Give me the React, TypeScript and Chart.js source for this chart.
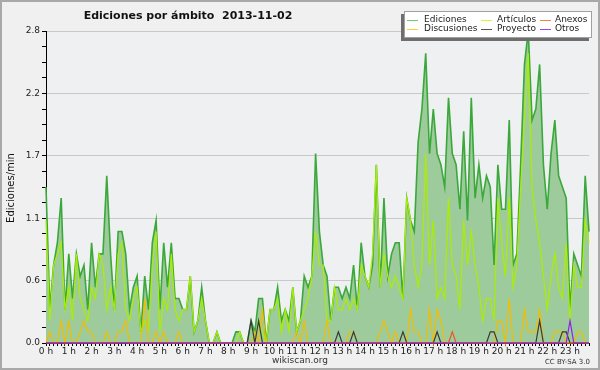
import React, { useEffect, useRef } from 'react';
import { Chart, registerables } from 'chart.js';

Chart.register(...registerables);

const chartTitle = 'Ediciones por ámbito  2013-11-02';
const yAxisTitle = 'Ediciones/min';

const hourLabels = [
  '0 h', '1 h', '2 h', '3 h', '4 h', '5 h', '6 h', '7 h', '8 h', '9 h', '10 h', '11 h',
  '12 h', '13 h', '14 h', '15 h', '16 h', '17 h', '18 h', '19 h', '20 h', '21 h', '22 h', '23 h',
];

// one value every 10 minutes (144 per day), in edits per minute
const ediciones = [
  1.4, 0.3, 0.7, 0.9, 1.3, 0.3, 0.8, 0.4, 0.8, 0.6, 0.7, 0.3,
  0.9, 0.5, 0.8, 0.8, 1.5, 0.8, 0.3, 1.0, 1.0, 0.8, 0.3, 0.5,
  0.6, 0.1, 0.6, 0.3, 0.9, 1.1, 0.3, 0.9, 0.5, 0.9, 0.4, 0.4,
  0.3, 0.3, 0.6, 0.1, 0.2, 0.5, 0.2, 0, 0, 0.1, 0, 0,
  0, 0, 0.1, 0.1, 0, 0, 0.2, 0.1, 0.4, 0.4, 0, 0.3,
  0.3, 0.5, 0.2, 0.3, 0.2, 0.5, 0.1, 0.2, 0.6, 0.5, 0.6, 1.7,
  1.0, 0.7, 0.6, 0.2, 0.5, 0.5, 0.4, 0.5, 0.4, 0.7, 0.3, 0.9,
  0.6, 0.5, 0.7, 1.6, 0.5, 1.3, 0.6, 0.8, 0.9, 0.9, 0.4, 1.3,
  1.1, 1.0, 1.8, 2.1, 2.6, 1.7, 2.1, 1.7, 1.6, 1.4, 2.2, 1.7,
  1.6, 1.2, 1.9, 1.1, 2.2, 1.3, 1.6, 1.3, 1.5, 1.4, 0.7, 1.6,
  1.2, 1.2, 2.0, 0.7, 0.8, 1.6, 2.5, 2.8, 2.0, 2.1, 2.5, 1.6,
  1.2, 1.7, 2.0, 1.5, 1.4, 1.3, 0.3, 0.8, 0.7, 0.6, 1.5, 1.0,
];

const articulos = [
  1.1, 0.2, 0.7, 0.8, 0.9, 0.3, 0.5, 0.2, 0.8, 0.4, 0.3, 0.2,
  0.5, 0.4, 0.8, 0.7, 0.3, 0.5, 0.3, 0.8, 0.9, 0.3, 0.2, 0.4,
  0.5, 0.1, 0.2, 0.1, 0.7, 1.0, 0.1, 0.4, 0.3, 0.8, 0.3, 0.2,
  0.3, 0.3, 0.6, 0.1, 0.2, 0.4, 0.2, 0, 0, 0.1, 0, 0,
  0, 0, 0, 0.1, 0, 0, 0, 0, 0.2, 0.1, 0, 0.3,
  0.3, 0.4, 0.1, 0.3, 0.1, 0.5, 0.1, 0.2, 0.3, 0.4, 0.6, 1.0,
  0.7, 0.7, 0.2, 0.2, 0.5, 0.3, 0.3, 0.4, 0.3, 0.4, 0.3, 0.7,
  0.6, 0.5, 0.8, 1.6, 0.5, 0.8, 0.6, 0.5, 0.6, 0.5, 0.4, 1.3,
  1.1, 0.7, 0.5, 0.7, 1.7, 0.7, 1.1, 0.4, 0.5, 0.4, 1.3, 0.7,
  0.6, 0.3, 1.1, 0.7, 1.0, 0.7, 0.5, 0.2, 0.4, 0.4, 0.2, 1.3,
  0.9, 0.6, 1.3, 0.5, 0.7, 1.4, 2.0, 2.6, 1.4, 1.1, 0.9, 0.6,
  0.3, 0.6, 0.8, 0.5, 0.4, 0.9, 0.2, 0.7, 0.5, 0.5, 1.1, 0.9,
];

const discusiones = [
  0, 0.1, 0, 0, 0.2, 0, 0.2, 0, 0, 0.1, 0.2, 0.1,
  0.1, 0, 0, 0, 0.1, 0, 0, 0.1, 0.1, 0.2, 0, 0,
  0, 0, 0.4, 0, 0, 0.1, 0, 0.1, 0, 0, 0, 0.1,
  0, 0, 0, 0, 0, 0, 0, 0, 0, 0, 0, 0,
  0, 0, 0, 0, 0, 0, 0, 0.1, 0, 0.3, 0, 0,
  0, 0, 0, 0, 0, 0, 0.1, 0, 0.2, 0, 0, 0,
  0, 0, 0.2, 0, 0, 0, 0, 0, 0.1, 0.1, 0, 0,
  0, 0, 0, 0, 0.1, 0.2, 0.1, 0, 0.1, 0, 0, 0,
  0.3, 0.1, 0.1, 0, 0, 0.3, 0, 0.3, 0.2, 0, 0, 0,
  0, 0, 0, 0, 0, 0, 0, 0, 0, 0, 0, 0.2,
  0.2, 0, 0.4, 0, 0, 0, 0.3, 0.1, 0.1, 0.1, 0.3, 0,
  0, 0, 0.1, 0.1, 0.1, 0, 0, 0, 0.1, 0.1, 0, 0,
];

const proyecto = [
  0, 0, 0, 0, 0, 0, 0, 0, 0, 0, 0, 0,
  0, 0, 0, 0, 0, 0, 0, 0, 0, 0, 0, 0,
  0, 0, 0, 0, 0, 0, 0, 0, 0, 0, 0, 0,
  0, 0, 0, 0, 0, 0, 0, 0, 0, 0, 0, 0,
  0, 0, 0, 0, 0, 0, 0.2, 0, 0.2, 0, 0, 0,
  0, 0, 0, 0, 0, 0, 0, 0, 0, 0, 0, 0,
  0, 0, 0, 0, 0, 0.1, 0, 0, 0, 0.1, 0, 0,
  0, 0, 0, 0, 0, 0, 0, 0, 0, 0, 0.1, 0,
  0, 0, 0, 0, 0, 0, 0, 0.1, 0, 0, 0, 0,
  0, 0, 0, 0, 0, 0, 0, 0, 0, 0.1, 0.1, 0,
  0, 0, 0, 0, 0, 0, 0, 0, 0, 0, 0.2, 0,
  0, 0, 0, 0, 0.1, 0.1, 0, 0, 0, 0, 0, 0,
];

const anexos = [
  0, 0, 0, 0, 0, 0, 0, 0, 0, 0, 0, 0,
  0, 0, 0, 0, 0, 0, 0, 0, 0, 0, 0, 0,
  0, 0, 0, 0, 0, 0, 0, 0, 0, 0, 0, 0,
  0, 0, 0, 0, 0, 0, 0, 0, 0, 0, 0, 0,
  0, 0, 0, 0, 0, 0, 0, 0, 0, 0, 0, 0,
  0, 0, 0, 0, 0, 0, 0, 0, 0, 0, 0, 0,
  0, 0, 0, 0, 0, 0, 0, 0, 0, 0, 0, 0,
  0, 0, 0, 0, 0, 0, 0, 0, 0, 0, 0, 0,
  0, 0, 0, 0, 0, 0, 0, 0, 0, 0, 0, 0.1,
  0, 0, 0, 0, 0, 0, 0, 0, 0, 0, 0, 0,
  0, 0, 0, 0, 0, 0, 0, 0, 0, 0, 0, 0,
  0, 0, 0, 0, 0, 0, 0, 0, 0, 0, 0, 0,
];

const otros = [
  0, 0, 0, 0, 0, 0, 0, 0, 0, 0, 0, 0,
  0, 0, 0, 0, 0, 0, 0, 0, 0, 0, 0, 0,
  0, 0, 0, 0, 0, 0, 0, 0, 0, 0, 0, 0,
  0, 0, 0, 0, 0, 0, 0, 0, 0, 0, 0, 0,
  0, 0, 0, 0, 0, 0, 0, 0, 0, 0, 0, 0,
  0, 0, 0, 0, 0, 0, 0, 0, 0, 0, 0, 0,
  0, 0, 0, 0, 0, 0, 0, 0, 0, 0, 0, 0,
  0, 0, 0, 0, 0, 0, 0, 0, 0, 0, 0, 0,
  0, 0, 0, 0, 0, 0, 0, 0, 0, 0, 0, 0,
  0, 0, 0, 0, 0, 0, 0, 0, 0, 0, 0, 0,
  0, 0, 0, 0, 0, 0, 0, 0, 0, 0, 0, 0,
  0, 0, 0, 0, 0, 0, 0.2, 0, 0, 0, 0, 0,
];

const yMax = 2.8;
const yStep = 0.14;

const seriesNames = ['Ediciones', 'Artículos', 'Anexos', 'Discusiones', 'Proyecto', 'Otros'];
const lineColors = ['#3aa83a', '#aaee00', '#ee5522', '#f2bd00', '#383838', '#8a22ee'];
const legendColors = ['#6ccc6c', '#ccf545', '#f4804a', '#f8d030', '#555555', '#9a44f4'];

const FONT = '"DejaVu Sans", sans-serif';

const decorPlugin = {
  id: 'decor',
  beforeDraw(chart: any) {
    const { ctx, width, height, chartArea } = chart;
    ctx.save();
    ctx.fillStyle = '#f0f0f0';
    ctx.fillRect(0, 0, width, height);
    ctx.strokeStyle = '#a9a9a9';
    ctx.lineWidth = 2;
    ctx.strokeRect(1, 1, width - 2, height - 2);
    ctx.fillStyle = '#eef0f2';
    ctx.fillRect(chartArea.left, chartArea.top, chartArea.right - chartArea.left, chartArea.bottom - chartArea.top);
    ctx.restore();
  },
  afterDraw(chart: any) {
    const { ctx } = chart;
    ctx.save();
    // title
    ctx.fillStyle = '#111';
    ctx.font = `bold 11px ${FONT}`;
    ctx.textAlign = 'center';
    ctx.textBaseline = 'middle';
    ctx.fillText(chartTitle, 188, 16);
    // y axis title
    ctx.save();
    ctx.translate(11, 188);
    ctx.rotate(-Math.PI / 2);
    ctx.font = `10px ${FONT}`;
    ctx.fillText(yAxisTitle, 0, 0);
    ctx.restore();
    // footer
    ctx.font = `9px ${FONT}`;
    ctx.fillStyle = '#333';
    ctx.fillText('wikiscan.org', 300, 361);
    ctx.font = `7px ${FONT}`;
    ctx.textAlign = 'right';
    ctx.fillText('CC BY-SA 3.0', 590, 362);
    // legend
    const bx = 404, by = 11, bw = 188, bh = 27;
    ctx.fillStyle = '#6e6e6e';
    ctx.fillRect(bx - 3, by + 3, bw, bh);
    ctx.fillStyle = '#ffffff';
    ctx.fillRect(bx, by, bw, bh);
    ctx.strokeStyle = '#a0a0a0';
    ctx.lineWidth = 1;
    ctx.strokeRect(bx + 0.5, by + 0.5, bw - 1, bh - 1);
    const colLine = [407, 481, 540];
    const colText = [424, 497, 555];
    const rowY = [20, 29];
    ctx.font = `9px ${FONT}`;
    ctx.textAlign = 'left';
    ctx.textBaseline = 'middle';
    seriesNames.forEach((name, i) => {
      const c = i % 3, r = Math.floor(i / 3);
      ctx.strokeStyle = legendColors[i];
      ctx.lineWidth = 1;
      ctx.beginPath();
      ctx.moveTo(colLine[c], rowY[r] + 0.5);
      ctx.lineTo(colLine[c] + 11, rowY[r] + 0.5);
      ctx.stroke();
      ctx.fillStyle = '#222';
      ctx.fillText(name, colText[c], rowY[r]);
    });
    ctx.restore();
  },
};

export default function App() {
  const ref = useRef<HTMLCanvasElement>(null);
  useEffect(() => {
    document.body.style.margin = '0';
    const canvas = ref.current!;
    const labels = ediciones.map((_, i) => String(i));
    const mk = (idx: number, data: number[], order: number, width: number) => ({
      label: seriesNames[idx],
      data,
      borderColor: lineColors[idx],
      borderWidth: width,
      pointRadius: 0,
      tension: 0,
      fill: false,
      order,
      clip: false as any,
    });
    const chart = new Chart(canvas, {
      type: 'line',
      data: {
        labels,
        datasets: [
          { ...mk(0, ediciones, 10, 1.6), fill: 'origin', backgroundColor: '#9ecb9c' },
          mk(1, articulos, 5, 1.2),
          mk(3, discusiones, 4, 1.2),
          mk(4, proyecto, 3, 1.2),
          mk(2, anexos, 2, 1.2),
          mk(5, otros, 1, 1.2),
        ],
      },
      options: {
        animation: false,
        responsive: false,
        maintainAspectRatio: false,
        layout: { padding: { left: 0, top: 31, right: 11, bottom: 0 } },
        plugins: { legend: { display: false }, tooltip: { enabled: false }, title: { display: false } },
        scales: {
          x: {
            type: 'category',
            offset: false,
            grid: { display: true, drawOnChartArea: false, drawTicks: true, tickLength: 3, tickColor: '#000', offset: false },
            border: { display: true, color: '#000', width: 1 },
            ticks: {
              autoSkip: false,
              maxRotation: 0,
              minRotation: 0,
              padding: 0,
              color: '#222',
              font: { family: FONT, size: 9 },
              callback: (_v: any, index: number) => (index % 6 === 0 ? hourLabels[index / 6] : ''),
            },
            afterFit: (s: any) => { s.height = 27; },
          },
          y: {
            type: 'linear',
            min: 0,
            max: yMax,
            grid: {
              color: (c: any) => (c.index % 4 === 0 ? '#c9c9c9' : 'rgba(0,0,0,0)'),
              tickColor: '#000',
              tickLength: 4,
              drawTicks: true,
            },
            border: { display: true, color: '#000', width: 1 },
            ticks: {
              stepSize: yStep,
              autoSkip: false,
              padding: 2,
              color: '#222',
              font: { family: FONT, size: 9 },
              callback: (v: any, index: number) => (index % 4 === 0 ? Number(v).toFixed(1) : ''),
            },
            afterFit: (s: any) => { s.width = 46; },
          },
        },
      },
      plugins: [decorPlugin],
    });
    return () => chart.destroy();
  }, []);
  return <canvas ref={ref} width={600} height={370} style={{ display: 'block' }} />;
}
